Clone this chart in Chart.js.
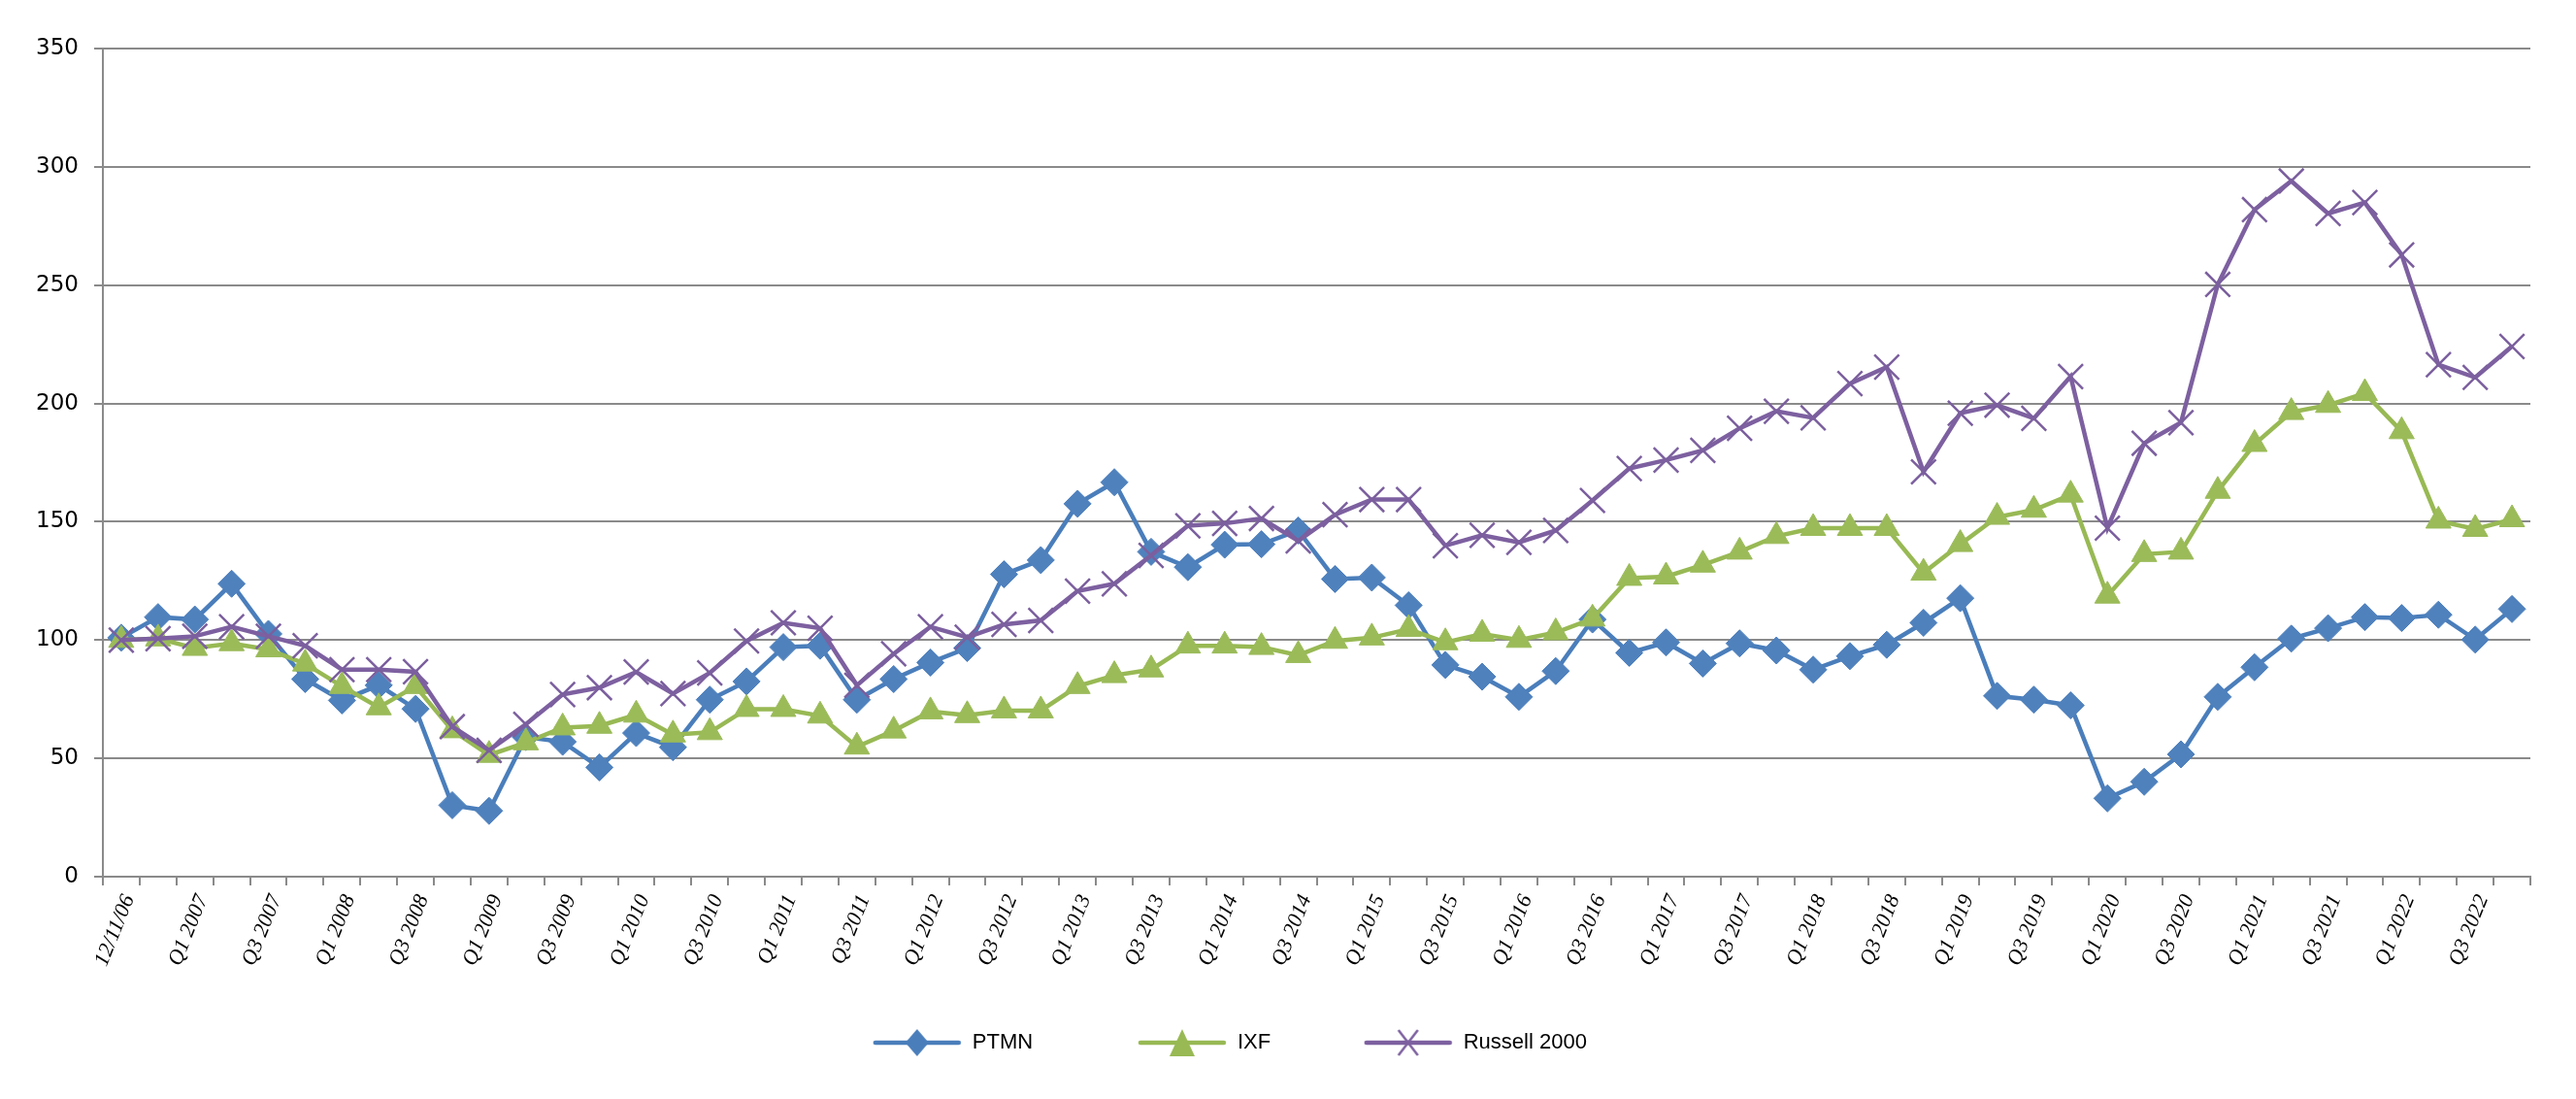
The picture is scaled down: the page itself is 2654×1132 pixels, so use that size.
<!DOCTYPE html>
<html>
<head>
<meta charset="utf-8">
<style>
  html, body { margin: 0; padding: 0; background: #fff; }
  #wrap { width: 2654px; height: 1132px; }
</style>
<script src="https://cdn.jsdelivr.net/npm/chart.js@4.4.1/dist/chart.umd.min.js"></script>
</head>
<body>
<div id="wrap"><canvas id="chart" width="2654" height="1132"></canvas></div>
<script>
const categories = [
  "12/11/06", "Q4 2006",
  "Q1 2007", "Q2 2007", "Q3 2007", "Q4 2007",
  "Q1 2008", "Q2 2008", "Q3 2008", "Q4 2008",
  "Q1 2009", "Q2 2009", "Q3 2009", "Q4 2009",
  "Q1 2010", "Q2 2010", "Q3 2010", "Q4 2010",
  "Q1 2011", "Q2 2011", "Q3 2011", "Q4 2011",
  "Q1 2012", "Q2 2012", "Q3 2012", "Q4 2012",
  "Q1 2013", "Q2 2013", "Q3 2013", "Q4 2013",
  "Q1 2014", "Q2 2014", "Q3 2014", "Q4 2014",
  "Q1 2015", "Q2 2015", "Q3 2015", "Q4 2015",
  "Q1 2016", "Q2 2016", "Q3 2016", "Q4 2016",
  "Q1 2017", "Q2 2017", "Q3 2017", "Q4 2017",
  "Q1 2018", "Q2 2018", "Q3 2018", "Q4 2018",
  "Q1 2019", "Q2 2019", "Q3 2019", "Q4 2019",
  "Q1 2020", "Q2 2020", "Q3 2020", "Q4 2020",
  "Q1 2021", "Q2 2021", "Q3 2021", "Q4 2021",
  "Q1 2022", "Q2 2022", "Q3 2022", "Q4 2022"
];

const ptmn = [
  101, 109.7, 108.7, 123.8, 102.6, 83.5, 74.5, 80.9, 70.9, 30.2, 27.8,
  59, 57, 46.2, 60.7, 54.7, 74.8, 82.5, 97, 97.6, 74.8, 83.5,
  90.5, 96.6, 127.8, 133.8, 157.6, 166.7, 137.3, 130.8, 140.3, 140.5, 146.3,
  125.8, 126.4, 114.7, 89.5, 84.5, 76, 86.9, 108.7, 94.6, 99, 90.1,
  98.6, 95.6, 87.5, 93.2, 98, 107.3, 117.7, 76.4, 74.8, 72.4, 33.1,
  40.1, 51.7, 76, 88.5, 100.6, 105, 109.7, 109.3, 110.7, 100.2, 113.1
];

const ixf = [
  100, 100.6, 96.6, 98.6, 96, 90, 80.5, 71.5, 80.5, 61.8, 51.4,
  56.7, 63, 63.7, 68.4, 60, 61, 70.8, 70.8, 68, 54.9, 61.7,
  69.8, 68.2, 70.2, 70.2, 80.5, 85.1, 87.5, 97.6, 97.6, 97, 93.6,
  99.6, 101, 104.6, 99, 102.6, 100, 103.2, 109, 126.2, 126.8, 131.8,
  137.3, 143.9, 147.3, 147.3, 147.3, 128.4, 140.5, 152, 155, 161.4, 118.7,
  136.3, 137.3, 163, 182.8, 196.3, 199.3, 204.3, 188.2, 150.4, 146.9, 151
];

const russell = [
  100, 100.6, 101.6, 105.6, 101.6, 97.6, 87.5, 87.5, 86.6, 63.4, 53.4,
  64.4, 77, 79.9, 86.5, 77.4, 86.1, 99.6, 107.3, 105, 80.9, 94.2,
  105.6, 101.2, 106.6, 108.3, 120.7, 123.8, 135.8, 148.3, 149.3, 151.4, 141.9,
  153, 159.4, 159.4, 139.9, 144.3, 141.3, 146.3, 159, 172.5, 176.1, 180.2,
  189.5, 196.7, 193.9, 208.4, 215.4, 171.1, 195.9, 199.3, 193.7, 211.4, 147.3,
  183.2, 191.9, 250.3, 281.9, 294, 280.3, 284.9, 262.8, 216.4, 211, 224.1
];

const yTicks = [0, 50, 100, 150, 200, 250, 300, 350];

const GRID = "#8a8a8a";
const C_PTMN = "#4a7ebb", C_IXF = "#98b954", C_RUS = "#7d60a0";

// legend icons: short line with the series marker in the middle
function legendIcon(color, kind) {
  const c = document.createElement("canvas");
  c.width = 92; c.height = 34;
  const g = c.getContext("2d");
  g.strokeStyle = color; g.lineWidth = 4.5; g.lineCap = "round";
  g.beginPath(); g.moveTo(3, 17); g.lineTo(89, 17); g.stroke();
  g.fillStyle = color;
  if (kind === "diamond") {
    g.beginPath(); g.moveTo(46, 3); g.lineTo(58, 17); g.lineTo(46, 31); g.lineTo(34, 17); g.closePath(); g.fill();
  } else if (kind === "triangle") {
    g.beginPath(); g.moveTo(46, 3); g.lineTo(59, 31); g.lineTo(33, 31); g.closePath(); g.fill();
  } else {
    g.lineWidth = 2.5; g.lineCap = "butt";
    g.beginPath(); g.moveTo(36, 4); g.lineTo(56, 30); g.moveTo(56, 4); g.lineTo(36, 30); g.stroke();
  }
  return c;
}
const icons = [legendIcon(C_PTMN, "diamond"), legendIcon(C_IXF, "triangle"), legendIcon(C_RUS, "x")];
// trailing spaces only widen the legend items, so the gaps and centring follow the reference
const legendText = ["PTMN" + " ".repeat(16), "IXF" + " ".repeat(14), "Russell 2000" + " ".repeat(12)];

new Chart(document.getElementById("chart"), {
  type: "line",
  data: {
    labels: categories,
    datasets: [
      {
        label: "PTMN", data: ptmn, order: 2,
        borderColor: C_PTMN, borderWidth: 4.5,
        pointStyle: "rectRot", pointRadius: 14,
        pointBackgroundColor: "#4f81bd", pointBorderColor: "#4f81bd", pointBorderWidth: 1
      },
      {
        label: "IXF", data: ixf, order: 1,
        borderColor: C_IXF, borderWidth: 4.5,
        pointStyle: "triangle", pointRadius: 15,
        pointBackgroundColor: "#9bbb59", pointBorderColor: "#9bbb59", pointBorderWidth: 1
      },
      {
        label: "Russell 2000", data: russell, order: 0,
        borderColor: C_RUS, borderWidth: 4.5,
        pointStyle: "crossRot", pointRadius: 18,
        pointBackgroundColor: C_RUS, pointBorderColor: "#7b5f9e", pointBorderWidth: 2.5
      }
    ]
  },
  options: {
    responsive: false,
    animation: false,
    devicePixelRatio: 1,
    layout: { padding: { left: 0, right: 47, top: 50, bottom: 37 } },
    elements: { line: { tension: 0 } },
    scales: {
      x: {
        type: "category",
        offset: true,
        afterFit: (s) => { s.height = 150; },
        border: { display: true, color: GRID, width: 2 },
        grid: { offset: true, drawOnChartArea: false, drawTicks: true, tickLength: 9, color: GRID, lineWidth: 2 },
        ticks: {
          autoSkip: false,
          minRotation: 68, maxRotation: 68,
          padding: 6,
          labelOffset: 8,
          color: "#000",
          font: { family: "'Liberation Serif', 'DejaVu Serif', serif", size: 22, style: "italic" },
          callback: (v, i) => (i % 2 === 0 ? categories[i] : "")
        }
      },
      y: {
        min: yTicks[0], max: yTicks[yTicks.length - 1],
        afterFit: (s) => { s.width = 106; },
        afterBuildTicks: (s) => { s.ticks = yTicks.map(v => ({ value: v })); },
        border: { display: true, color: GRID, width: 2 },
        grid: { color: GRID, lineWidth: 2, drawTicks: true, tickLength: 9 },
        ticks: {
          padding: 16,
          color: "#000",
          font: { family: "'DejaVu Sans', sans-serif", size: 23 }
        }
      }
    },
    plugins: {
      tooltip: { enabled: false },
      legend: {
        position: "bottom",
        labels: {
          usePointStyle: true,
          pointStyleWidth: 92,
          padding: 10,
          color: "#000",
          font: { family: "'Liberation Sans', Arial, sans-serif", size: 22 },
          sort: (a, b) => a.datasetIndex - b.datasetIndex,
          generateLabels: (chart) => chart.data.datasets.map((ds, i) => ({
            text: legendText[i],
            datasetIndex: i,
            pointStyle: icons[i],
            fillStyle: ds.borderColor,
            strokeStyle: ds.borderColor,
            lineWidth: 0,
            hidden: false,
            fontColor: "#000"
          }))
        }
      }
    }
  }
});
</script>
</body>
</html>
